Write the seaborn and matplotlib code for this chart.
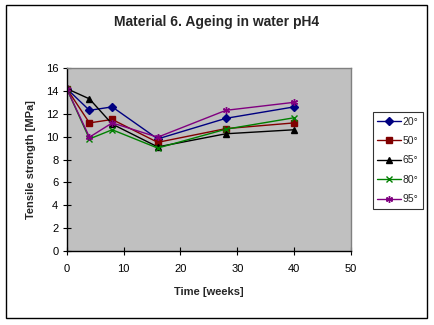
import matplotlib
matplotlib.use("Agg")
import matplotlib.pyplot as plt
import seaborn as sns
import pandas as pd
from matplotlib.patches import Rectangle

weeks = [0, 4, 8, 16, 28, 40]
s20 = [14.2, 12.3, 12.6, 9.8, 11.6, 12.6]
s50 = [14.2, 11.2, 11.5, 9.5, 10.7, 11.2]
s65 = [14.2, 13.3, 11.1, 9.1, 10.25, 10.6]
s80 = [14.2, 9.8, 10.6, 9.0, 10.65, 11.65]
s95 = [14.2, 9.95, 11.2, 9.95, 12.3, 13.0]
labels = ["20°", "50°", "65°", "80°", "95°"]
title = "Material 6. Ageing in water pH4"
xlabel = "Time [weeks]"
ylabel = "Tensile strength [MPa]"

series = [s20, s50, s65, s80, s95]
colors = ["#000080", "#800000", "#000000", "#008000", "#800080"]
markers = ["D", "s", "^", "x", (6, 2, 0)]
msizes = [4, 4.5, 4.5, 4, 5]

sns.set_theme(style="white")
plt.rcParams["font.family"] = ["Liberation Sans", "DejaVu Sans"]

fig = plt.figure(figsize=(4.34, 3.25), dpi=100)
fig.patch.set_facecolor("white")
ax = fig.add_axes([66.7 / 434, 1 - 251 / 325, (351 - 66.7) / 434, (251 - 68) / 325])
ax.set_facecolor("#C0C0C0")

for lab, vals, c, m, ms in zip(labels, series, colors, markers, msizes):
    df = pd.DataFrame({"weeks": weeks, "val": vals})
    sns.lineplot(data=df, x="weeks", y="val", ax=ax, color=c, marker=m,
                 markersize=ms, markeredgecolor=c, markerfacecolor=c,
                 markeredgewidth=1.0, linewidth=1.0, label=lab)

ax.set_xlim(0, 50)
ax.set_ylim(0, 16)
ax.set_xticks(range(0, 51, 10))
ax.set_yticks(range(0, 17, 2))
ax.tick_params(axis="both", direction="inout", length=6, width=0.8,
               labelsize=8, colors="black")
ax.tick_params(axis="x", pad=6)
ax.tick_params(axis="y", pad=3)
ax.tick_params(left=True, bottom=True)
for s in ["left", "bottom"]:
    ax.spines[s].set_color("black")
    ax.spines[s].set_linewidth(1.0)
for s in ["top", "right"]:
    ax.spines[s].set_color("#808080")
    ax.spines[s].set_linewidth(1.0)

ax.set_xlabel(xlabel, fontsize=8, fontweight="bold", labelpad=10)
ax.set_ylabel(ylabel, fontsize=8, fontweight="bold", labelpad=7)
fig.text(0.5, 1 - 22 / 325, title, ha="center", va="center",
         fontsize=10, fontweight="bold")

ax.legend_.remove()
handles, labs = ax.get_legend_handles_labels()
leg = fig.legend(handles, labs, loc="upper left",
                 bbox_to_anchor=(372.7 / 434, 1 - 112 / 325),
                 fontsize=7.5, frameon=True, fancybox=False, handlelength=2.3,
                 borderpad=0.45, labelspacing=0.9, handletextpad=0.15,
                 borderaxespad=0)
leg.get_frame().set_edgecolor("black")
leg.get_frame().set_linewidth(0.8)

fig.add_artist(Rectangle((6 / 434, 1 - 318 / 325), (427 - 6) / 434, (318 - 5) / 325,
                         transform=fig.transFigure, fill=False,
                         edgecolor="black", linewidth=1.0))

fig.savefig("out.png", dpi=100)
